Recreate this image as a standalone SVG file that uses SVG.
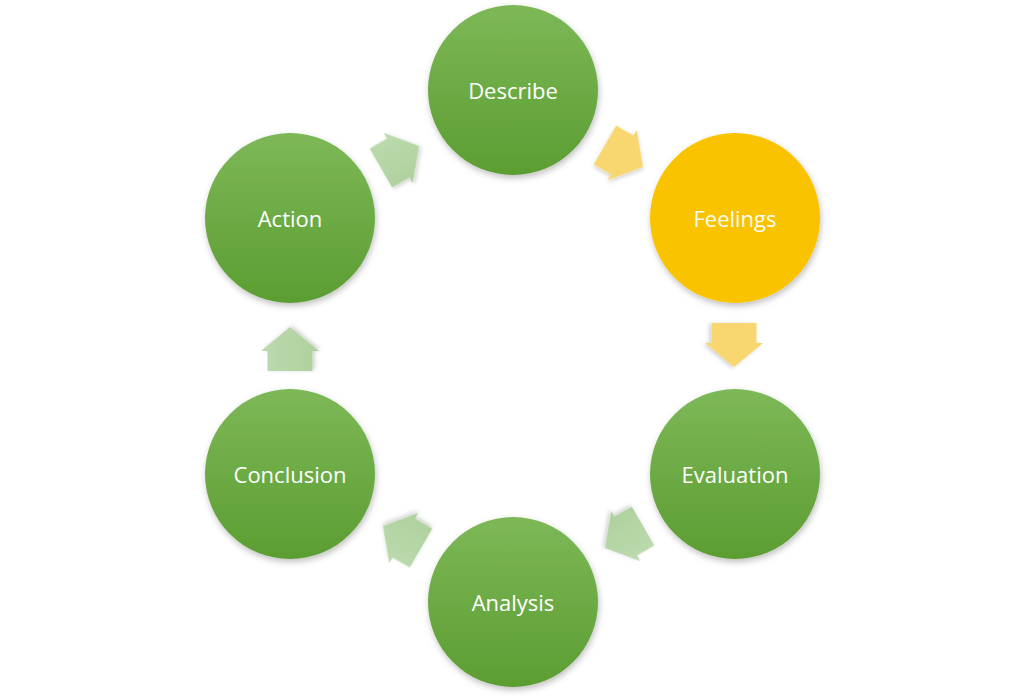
<svg xmlns="http://www.w3.org/2000/svg" width="1024" height="698" viewBox="0 0 1024 698">
<defs>
<linearGradient id="gGreen" x1="0" y1="0" x2="0" y2="1">
<stop offset="0" stop-color="#7DB857"/>
<stop offset="1" stop-color="#5C9D32"/>
</linearGradient>
<linearGradient id="gArrowGreen" x1="0" y1="0" x2="0" y2="1">
<stop offset="0" stop-color="#BCDAAE"/>
<stop offset="1" stop-color="#AED19D"/>
</linearGradient>
<filter id="shadow" x="-20%" y="-20%" width="140%" height="140%">
<feDropShadow dx="1" dy="3" stdDeviation="3" flood-color="#000" flood-opacity="0.25"/>
</filter>
<filter id="ashadow" x="-30%" y="-30%" width="160%" height="160%">
<feDropShadow dx="1" dy="2" stdDeviation="2" flood-color="#000" flood-opacity="0.2"/>
</filter>
<path id="arr" d="M-22,-22.5 L-2,-22.5 L-2,-29 L22,0 L-2,29 L-2,22.5 L-22,22.5 Z"/>
</defs>
<style>
.node{fill:url(#gGreen);filter:url(#shadow);}
.yel{fill:#F9C300;filter:url(#shadow);}
.lbl{font-family:"Open Sans","Liberation Sans",sans-serif;font-size:22px;fill:#FFFFFF;text-anchor:middle;dominant-baseline:central;}
.ag{fill:url(#gArrowGreen);filter:url(#ashadow);}
.ay{fill:#F8D771;filter:url(#ashadow);}
</style>
<rect width="1024" height="698" fill="#FFFFFF"/>
<g id="connectors">
<use href="#arr" class="ay" transform="translate(624,156) rotate(30)"/>
<use href="#arr" class="ay" transform="translate(734,345) rotate(90)"/>
<use href="#arr" class="ag" transform="translate(624,537) rotate(150)"/>
<use href="#arr" class="ag" transform="translate(402,537) rotate(210)"/>
<use href="#arr" class="ag" transform="translate(290,349) rotate(270)"/>
<use href="#arr" class="ag" transform="translate(400,157) rotate(330)"/>
</g>
<g id="describe">
<circle class="node" cx="513" cy="90" r="85"/>
<text class="lbl" x="513" y="90">Describe</text>
</g>
<g id="feelings">
<circle class="yel" cx="735" cy="218" r="85"/>
<text class="lbl" x="735" y="218" style="fill:#F4FBF2">Feelings</text>
</g>
<g id="evaluation">
<circle class="node" cx="735" cy="474" r="85"/>
<text class="lbl" x="735" y="474">Evaluation</text>
</g>
<g id="analysis">
<circle class="node" cx="513" cy="602" r="85"/>
<text class="lbl" x="513" y="602">Analysis</text>
</g>
<g id="conclusion">
<circle class="node" cx="290" cy="474" r="85"/>
<text class="lbl" x="290" y="474">Conclusion</text>
</g>
<g id="action">
<circle class="node" cx="290" cy="218" r="85"/>
<text class="lbl" x="290" y="218">Action</text>
</g>
</svg>
